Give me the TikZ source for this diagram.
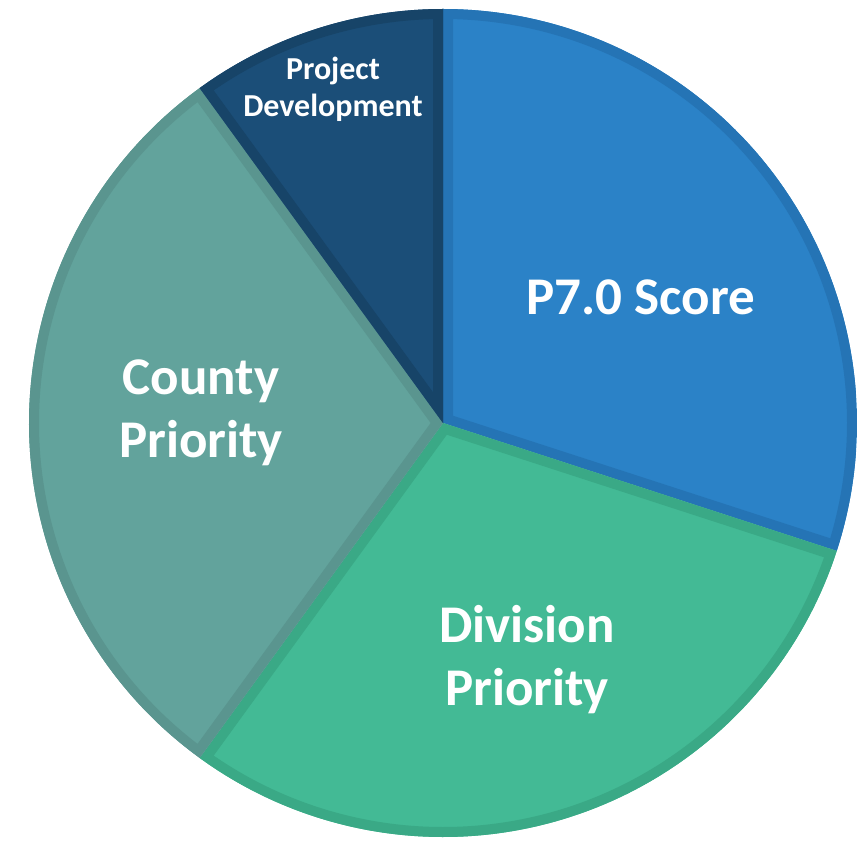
\documentclass[tikz,border=0pt]{standalone}
\usepackage{fontspec}
\setmainfont{Carlito}
\definecolor{pfill}{HTML}{2B82C7}
\definecolor{pline}{HTML}{2574B5}
\definecolor{dfill}{HTML}{43BA95}
\definecolor{dline}{HTML}{3AA986}
\definecolor{cfill}{HTML}{62A39C}
\definecolor{cline}{HTML}{5A958F}
\definecolor{jfill}{HTML}{1B4E78}
\definecolor{jline}{HTML}{174468}
\tikzset{
  bigtext/.style={text=white, align=center, font=\fontsize{53}{63}\selectfont\bfseries, inner sep=0pt},
  smalltext/.style={text=white, align=center, font=\fontsize{32}{37}\selectfont\bfseries, inner sep=0pt}
}
\newcommand\pieslice[4]{%
  \fill[#3] (c) -- ++(#1:414) arc[start angle=#1, end angle=#2, radius=414] -- cycle;
  \begin{scope}
    \clip (c) -- ++(#1:414) arc[start angle=#1, end angle=#2, radius=414] -- cycle;
    \draw[#4, line width=20pt, line join=miter] (c) -- ++(#1:414) arc[start angle=#1, end angle=#2, radius=414] -- cycle;
  \end{scope}}
\begin{document}
\begin{tikzpicture}[x=1pt,y=1pt]
\useasboundingbox (0,-842) rectangle (857,0);
\coordinate (c) at (443,-423);
\pieslice{90}{-18}{pfill}{pline}
\pieslice{-18}{-126}{dfill}{dline}
\pieslice{234}{126}{cfill}{cline}
\pieslice{126}{90}{jfill}{jline}
\node[bigtext] (score) at (641,-297) {P7.0 Score};
\node[bigtext] (county) at (201,-413) {County\\Priority};
\node[bigtext] (division) at (527,-660) {Division\\Priority};
\node[smalltext] (project) at (333,-89) {Project\\Development};
\end{tikzpicture}
\end{document}
